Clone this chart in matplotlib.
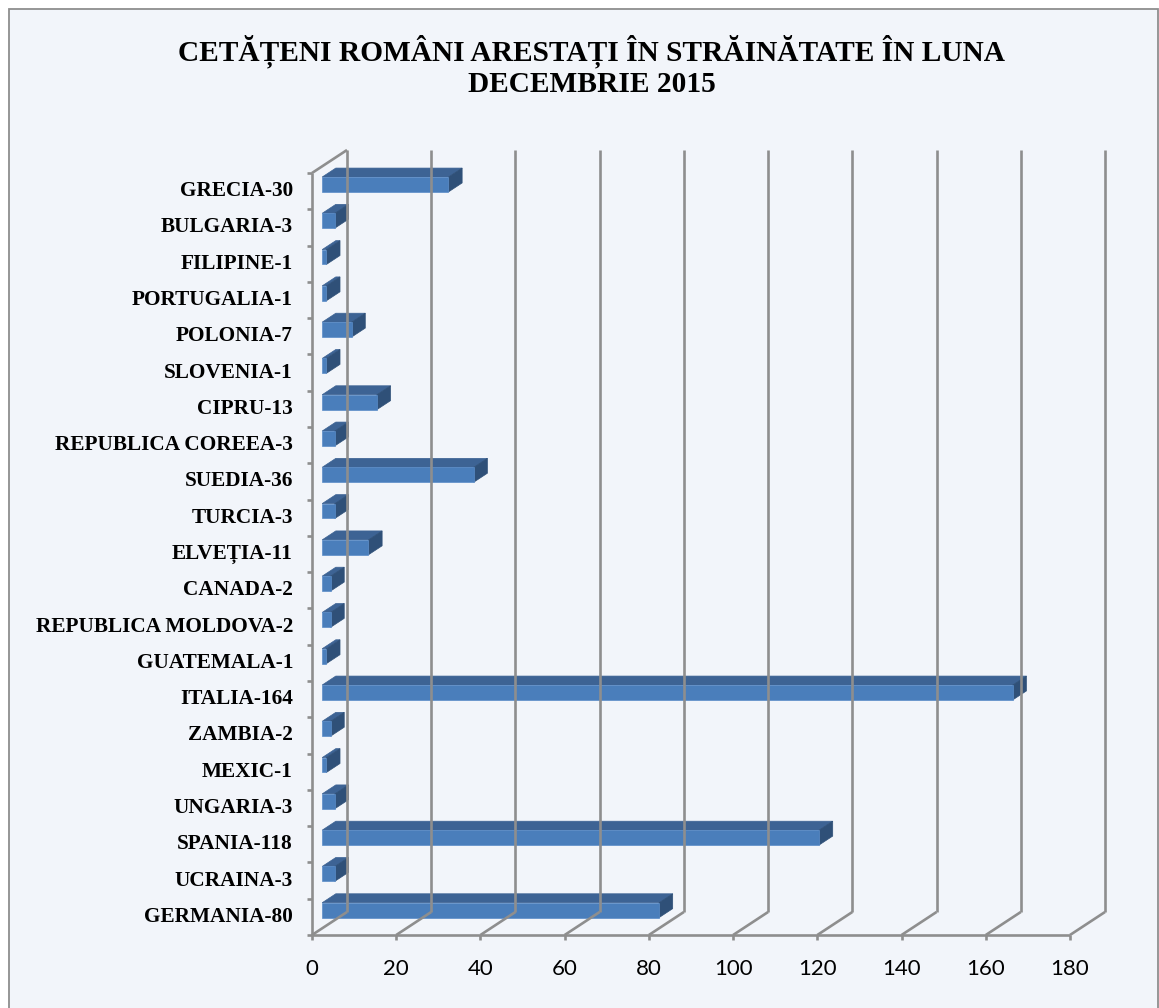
import matplotlib
matplotlib.use('agg')
from matplotlib import pyplot as plt
from matplotlib.patches import Polygon, Rectangle

# categories, top to bottom
countries = ["GRECIA-30", "BULGARIA-3", "FILIPINE-1", "PORTUGALIA-1", "POLONIA-7",
             "SLOVENIA-1", "CIPRU-13", "REPUBLICA COREEA-3", "SUEDIA-36", "TURCIA-3",
             "ELVEȚIA-11", "CANADA-2", "REPUBLICA MOLDOVA-2", "GUATEMALA-1", "ITALIA-164",
             "ZAMBIA-2", "MEXIC-1", "UNGARIA-3", "SPANIA-118", "UCRAINA-3", "GERMANIA-80"]
arrests = [30, 3, 1, 1, 7, 1, 13, 3, 36, 3, 11, 2, 2, 1, 164, 2, 1, 3, 118, 3, 80]
x_ticks = [0, 20, 40, 60, 80, 100, 120, 140, 160, 180]
title = "CETĂȚENI ROMÂNI ARESTAȚI ÎN STRĂINĂTATE ÎN LUNA\nDECEMBRIE 2015"

BG = "#F2F5FA"
GRID = "#8E8E8E"
FRONT = "#4A7EBB"
TOP = "#3D6394"
SIDE = "#2F5078"
SERIF = "Liberation Serif"

W, H = 1159, 1008
fig = plt.figure(figsize=(W / 100, H / 100), dpi=100)
fig.patch.set_facecolor("white")
fig.patches.append(Rectangle((8.5 / W, -0.01), (W - 9.5) / W, (H - 8.5) / H + 0.01,
                             transform=fig.transFigure, facecolor=BG,
                             edgecolor="#8E8E8E", lw=1.3, zorder=-5))

# front plane of the 3D box: x 0..180, y in category slots
n = len(countries)
ax = fig.add_axes([312 / W, (H - 935) / H, 758 / W, 762 / H])
ax.set_xlim(0, 180)
ax.set_ylim(0, n)
ax.axis("off")

# oblique depth offset, in data units (full depth of the box)
px_x = 758 / 180
px_y = 762 / n
DX = 35 / px_x
DY = 23 / px_y


def P(x, y, f):
    return (x + f * DX, y + f * DY)


def line(pts, **kw):
    xs, ys = zip(*pts)
    ax.plot(xs, ys, color=GRID, lw=1.9, clip_on=False, solid_capstyle="butt", **kw)


# back wall gridlines and floor lines
for t in x_ticks:
    line([P(t, 0, 1), P(t, n, 1)])
    line([P(t, 0, 0), P(t, 0, 1)])
line([P(0, n, 0), P(0, n, 1)])

# bars
f0, f1 = 0.29, 0.68
h = 0.41
vals = arrests[::-1]
for i, v in enumerate(vals):
    c = i + 0.5
    lo, hi = c - h / 2, c + h / 2
    ax.add_patch(Polygon([P(0, hi, f0), P(v, hi, f0), P(v, hi, f1), P(0, hi, f1)],
                         closed=True, facecolor=TOP, edgecolor=TOP, lw=0.5, clip_on=False))
    ax.add_patch(Polygon([P(v, lo, f0), P(v, hi, f0), P(v, hi, f1), P(v, lo, f1)],
                         closed=True, facecolor=SIDE, edgecolor=SIDE, lw=0.5, clip_on=False))
    ax.add_patch(Polygon([P(0, lo, f0), P(v, lo, f0), P(v, hi, f0), P(0, hi, f0)],
                         closed=True, facecolor=FRONT, edgecolor="#5A8CC8", lw=0.5, clip_on=False))

# front axes with ticks
line([P(0, 0, 0), P(180, 0, 0)])
line([P(0, 0, 0), P(0, n, 0)])
for t in x_ticks:
    ax.plot([t, t], [0, -5 / px_y], color=GRID, lw=1.9, clip_on=False, solid_capstyle="butt")
    ax.text(t, -34 / px_y, str(t), ha="center", va="center", fontsize=16, family="Lato")
for k in range(n + 1):
    ax.plot([0, -5 / px_x], [k, k], color=GRID, lw=1.9, clip_on=False, solid_capstyle="butt")

# category labels
for i, name in enumerate(countries[::-1]):
    ax.text(-19 / px_x, i + 0.5, name, ha="right", va="center", fontsize=15.3,
            fontweight="bold", family=SERIF)

fig.text(592 / W, 1 - 66 / H, title, ha="center", va="center", fontsize=21.2,
         fontweight="bold", family=SERIF, linespacing=1.15)

fig.savefig("out.png", dpi=100, facecolor=fig.get_facecolor())
